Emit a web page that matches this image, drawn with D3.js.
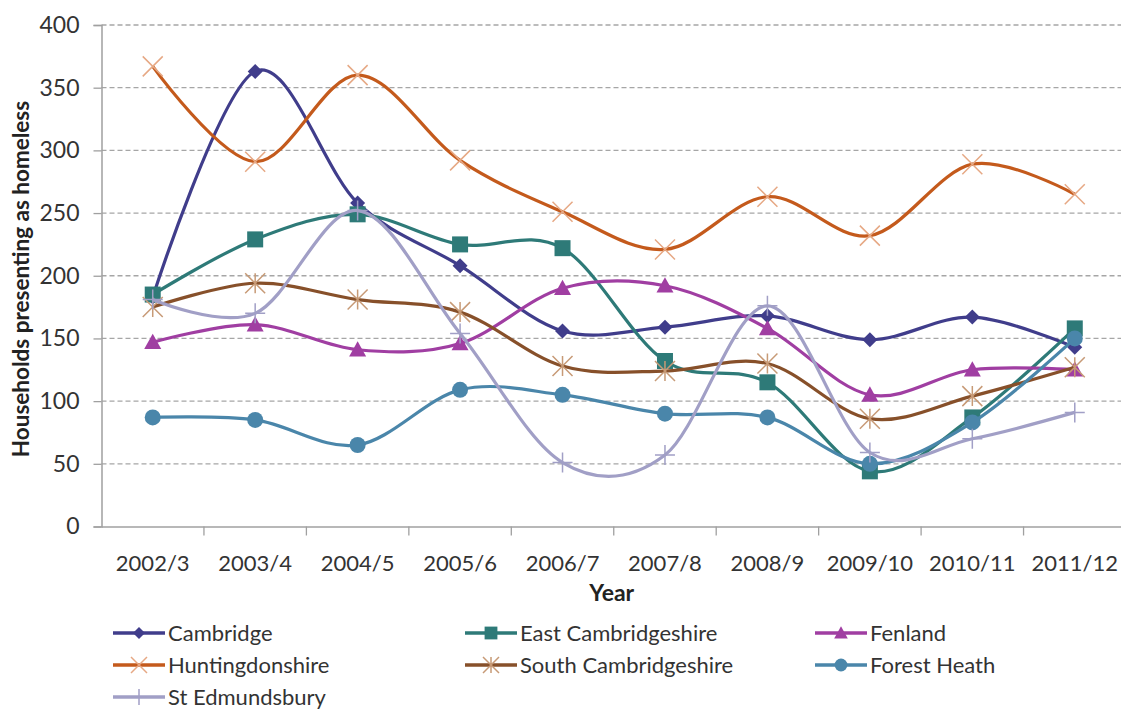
<!DOCTYPE html>
<html>
<head>
<meta charset="utf-8">
<script src="https://cdn.jsdelivr.net/npm/d3@7"></script>
<style>
  html, body { margin: 0; padding: 0; background: #fff; }
  svg { display: block; font-family: Lato, "Open Sans", sans-serif; }
</style>
</head>
<body>
<svg id="chart" width="1121" height="709"></svg>
<script>
// Households presenting as homeless by district, 2002/3 to 2011/12
const years = ["2002/3", "2003/4", "2004/5", "2005/6", "2006/7", "2007/8", "2008/9", "2009/10", "2010/11", "2011/12"];
const yTicks = [0, 50, 100, 150, 200, 250, 300, 350, 400];

const cambridge        = [183, 363, 258, 208, 156, 159, 168, 149, 167, 143];
const eastCambs        = [185, 229, 249, 225, 222, 132, 115, 44, 87, 158];
const fenland          = [147, 161, 141, 146, 190, 192, 158, 105, 125, 125];
const huntingdonshire  = [367, 291, 360, 292, 251, 221, 263, 232, 289, 265];
const southCambs       = [175, 194, 181, 171, 128, 124, 130, 86, 104, 127];
const forestHeath      = [87, 85, 65, 109, 105, 90, 87, 50, 83, 150];
const stEdmundsbury    = [181, 170, 252, 154, 51, 57, 176, 59, 70, 91];

const series = [
  { name: "Cambridge",            values: cambridge,       color: "#403d8b", marker: "diamond",  mColor: "#403d8b" },
  { name: "East Cambridgeshire",  values: eastCambs,       color: "#2e7a78", marker: "square",   mColor: "#2e7a78" },
  { name: "Fenland",              values: fenland,         color: "#a03ea2", marker: "triangle", mColor: "#a03ea2" },
  { name: "Huntingdonshire",      values: huntingdonshire, color: "#c45a1c", marker: "x",        mColor: "#e6a884" },
  { name: "South Cambridgeshire", values: southCambs,      color: "#87502a", marker: "asterisk", mColor: "#c79a76" },
  { name: "Forest Heath",         values: forestHeath,     color: "#4a86aa", marker: "circle",   mColor: "#4a86aa" },
  { name: "St Edmundsbury",       values: stEdmundsbury,   color: "#a19fc6", marker: "plus",     mColor: "#a19fc6" }
];

const svg = d3.select("#chart");
const plot = { left: 101.5, right: 1126, top: 25, bottom: 526.5 };

const x = d3.scaleBand().domain(years).range([plot.left, plot.right]);
const y = d3.scaleLinear().domain([0, 400]).range([plot.bottom, plot.top]);
const cx = d => x(d) + x.bandwidth() / 2;

// Dashed horizontal gridlines
svg.append("g")
  .selectAll("line")
  .data(yTicks.filter(t => t > 0))
  .join("line")
  .attr("x1", plot.left).attr("x2", 1121)
  .attr("y1", d => y(d)).attr("y2", d => y(d))
  .attr("stroke", "#a6a6a6")
  .attr("stroke-width", 1.3)
  .attr("stroke-dasharray", "5,3");

// Y axis
const yAxis = svg.append("g")
  .attr("transform", `translate(${plot.left},0)`)
  .call(d3.axisLeft(y).tickValues(yTicks).tickSize(8).tickPadding(14));
yAxis.select(".domain").attr("stroke", "#a0a0a0").attr("stroke-width", 1.5);
yAxis.selectAll(".tick line").attr("stroke", "#a0a0a0").attr("stroke-width", 1.3);
yAxis.selectAll(".tick text")
  .attr("fill", "#333")
  .style("font-size", "23px")
  .style("font-family", "Lato, sans-serif");

// X axis, ticks between categories
const xAxis = svg.append("g")
  .attr("transform", `translate(0,${plot.bottom})`)
  .call(d3.axisBottom(x).tickSize(0).tickPadding(29));
xAxis.select(".domain").attr("stroke", "#a0a0a0").attr("stroke-width", 1.5);
xAxis.selectAll(".tick text")
  .attr("fill", "#333")
  .style("font-size", "22px")
  .style("font-family", "Lato, sans-serif");
xAxis.append("g")
  .selectAll("line")
  .data(years.slice(1))
  .join("line")
  .attr("x1", d => x(d)).attr("x2", d => x(d))
  .attr("y1", 0).attr("y2", 9)
  .attr("stroke", "#a0a0a0").attr("stroke-width", 1.3);

// Axis titles
svg.append("text")
  .attr("x", cx("2006/7") + x.bandwidth() / 2 - 2)
  .attr("y", 601)
  .attr("text-anchor", "middle")
  .attr("fill", "#222")
  .style("font-weight", "bold")
  .style("font-size", "23px")
  .text("Year");

svg.append("text")
  .attr("transform", `translate(29,279) rotate(-90)`)
  .attr("text-anchor", "middle")
  .attr("fill", "#222")
  .style("font-weight", "bold")
  .style("font-size", "22.5px")
  .text("Households presenting as homeless");

// Marker drawing
function drawMarker(g, type, color, s) {
  const h = s / 2;
  switch (type) {
    case "diamond":
      g.append("path").attr("d", `M0,${-h}L${h},0L0,${h}L${-h},0Z`).attr("fill", color);
      break;
    case "square":
      g.append("rect").attr("x", -h).attr("y", -h).attr("width", s).attr("height", s).attr("fill", color);
      break;
    case "triangle":
      g.append("path").attr("d", `M0,${-h}L${h},${h * 0.8}L${-h},${h * 0.8}Z`).attr("fill", color);
      break;
    case "circle":
      g.append("circle").attr("r", h).attr("fill", color);
      break;
    case "x":
      g.append("path").attr("d", `M${-h},${-h}L${h},${h}M${h},${-h}L${-h},${h}`)
        .attr("stroke", color).attr("stroke-width", 1.5).attr("fill", "none");
      break;
    case "asterisk":
      g.append("path").attr("d", `M${-h},${-h}L${h},${h}M${h},${-h}L${-h},${h}M0,${-h}L0,${h}`)
        .attr("stroke", color).attr("stroke-width", 1.5).attr("fill", "none");
      break;
    case "plus":
      g.append("path").attr("d", `M${-h},0L${h},0M0,${-h}L0,${h}`)
        .attr("stroke", color).attr("stroke-width", 1.5).attr("fill", "none");
      break;
  }
}

const markerSize = { diamond: 15, square: 16, triangle: 17, circle: 16, x: 20, asterisk: 20, plus: 20 };

const line = d3.line()
  .x((d, i) => cx(years[i]))
  .y(d => y(d))
  .curve(d3.curveCatmullRom.alpha(0));

const gSeries = svg.append("g");
series.forEach(s => {
  const g = gSeries.append("g");
  g.append("path")
    .attr("d", line(s.values))
    .attr("fill", "none")
    .attr("stroke", s.color)
    .attr("stroke-width", 3.2)
    .attr("stroke-linejoin", "round");
  s.values.forEach((v, i) => {
    const m = g.append("g").attr("transform", `translate(${cx(years[i])},${y(v)})`);
    drawMarker(m, s.marker, s.mColor, markerSize[s.marker]);
  });
});

// Legend, three columns
const legendCols = [113, 465, 815];
const legendRows = [633, 665, 697];
const legend = svg.append("g");
series.forEach((s, i) => {
  const lx = legendCols[i % 3];
  const ly = legendRows[Math.floor(i / 3)];
  const g = legend.append("g").attr("transform", `translate(${lx},${ly})`);
  g.append("line").attr("x1", 0).attr("x2", 52).attr("y1", 0).attr("y2", 0)
    .attr("stroke", s.color).attr("stroke-width", 3.5);
  const m = g.append("g").attr("transform", "translate(26,0)");
  drawMarker(m, s.marker, s.mColor, markerSize[s.marker] * 0.8);
  g.append("text")
    .attr("x", 55).attr("y", 0).attr("dy", "0.35em")
    .attr("fill", "#333")
    .style("font-size", "22px")
    .text(s.name);
});
</script>
</body>
</html>
